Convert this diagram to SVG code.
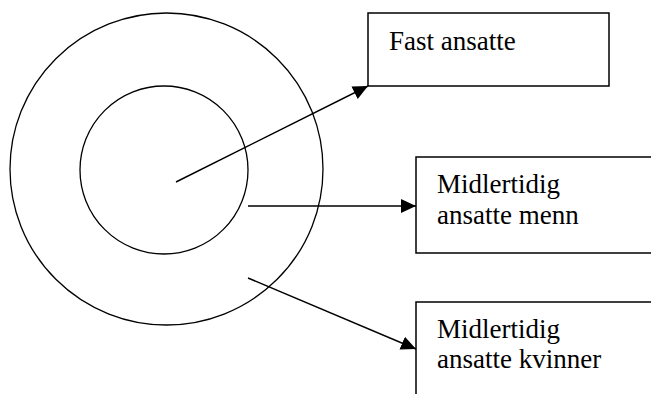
<svg xmlns="http://www.w3.org/2000/svg" width="651" height="394" viewBox="0 0 651 394">
<style>
.ring{fill:none;stroke:#000;stroke-width:1.3}
.box{fill:#fff;stroke:#000;stroke-width:1.5}
.lbl{font-family:"Liberation Serif","Times New Roman",serif;font-size:27px;fill:#000}
.conn{fill:none;stroke:#000;stroke-width:1.4}
</style>
<defs>
<marker id="arr" markerUnits="userSpaceOnUse" markerWidth="16" markerHeight="15" refX="15" refY="7" orient="auto">
<path d="M0,0 L15,7 L0,14 z" fill="#000"/>
</marker>
</defs>
<rect width="651" height="394" fill="#fff"/>
<g id="outer-circle"><ellipse class="ring" cx="166.5" cy="169" rx="156.5" ry="156"/></g>
<g id="inner-circle"><ellipse class="ring" cx="164" cy="170" rx="84" ry="84"/></g>
<g id="box-fast">
<rect class="box" x="368" y="13" width="241" height="73"/>
<text class="lbl" x="389" y="50">Fast ansatte</text>
</g>
<g id="box-menn">
<rect class="box" x="416" y="157" width="250" height="96"/>
<text class="lbl" x="437" y="193">Midlertidig</text>
<text class="lbl" x="437" y="224">ansatte menn</text>
</g>
<g id="box-kvinner">
<rect class="box" x="416" y="302" width="250" height="110"/>
<text class="lbl" x="437" y="338">Midlertidig</text>
<text class="lbl" x="437" y="368">ansatte kvinner</text>
</g>
<g id="connectors">
<line class="conn" x1="176" y1="182" x2="368" y2="86" marker-end="url(#arr)"/>
<line class="conn" x1="248" y1="206" x2="416" y2="206" marker-end="url(#arr)"/>
<line class="conn" x1="248" y1="278" x2="416" y2="349" marker-end="url(#arr)"/>
</g>
</svg>
